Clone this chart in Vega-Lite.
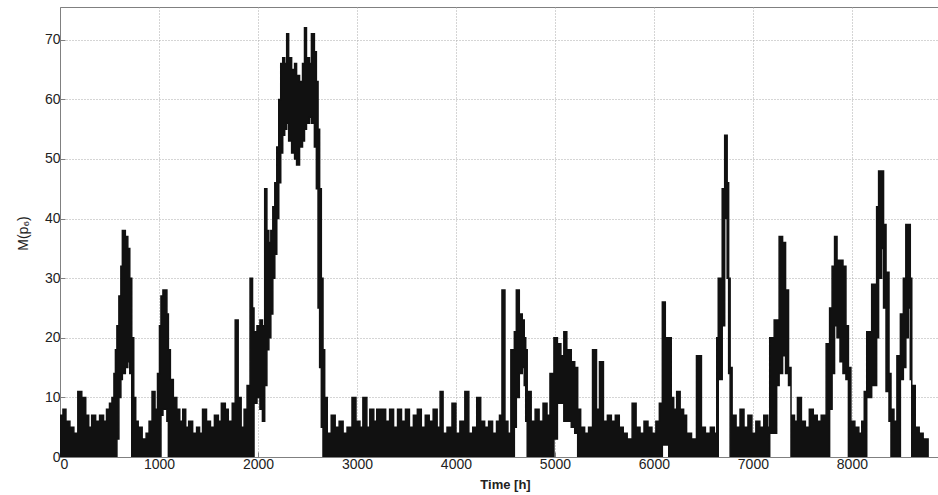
{
  "$schema": "https://vega.github.io/schema/vega-lite/v6.json",
  "width": 878,
  "height": 450,
  "autosize": {"type": "none"},
  "padding": {"left": 60, "top": 7, "right": 0, "bottom": 38},
  "background": "white",
  "config": {
    "font": "Liberation Sans",
    "view": {"stroke": "#808080", "strokeWidth": 1},
    "axis": {
      "labelFont": "Liberation Sans",
      "labelFontSize": 14,
      "labelColor": "#222222",
      "titleFont": "Liberation Sans",
      "titleColor": "#222222",
      "grid": true,
      "gridColor": "#aaaaaa",
      "gridDash": [1, 2],
      "gridWidth": 1,
      "domainColor": "#808080",
      "tickColor": "#808080",
      "tickSize": -5,
      "labelPadding": 5
    }
  },
  "data": {
    "values": [
      {"t":0,"lo":0,"hi":7},{"t":30,"lo":0,"hi":8},{"t":60,"lo":0,"hi":6},{"t":100,"lo":0,"hi":5},
      {"t":140,"lo":0,"hi":4},{"t":180,"lo":0,"hi":11},{"t":220,"lo":0,"hi":10},{"t":260,"lo":0,"hi":7},
      {"t":290,"lo":0,"hi":5},{"t":320,"lo":0,"hi":7},{"t":360,"lo":0,"hi":6},{"t":400,"lo":0,"hi":7},
      {"t":440,"lo":0,"hi":6},{"t":470,"lo":0,"hi":8},{"t":500,"lo":0,"hi":9},{"t":525,"lo":0,"hi":10},
      {"t":545,"lo":0,"hi":14},{"t":560,"lo":0,"hi":18},{"t":575,"lo":3,"hi":22},{"t":595,"lo":10,"hi":27},
      {"t":615,"lo":13,"hi":32},{"t":630,"lo":14,"hi":38},{"t":660,"lo":15,"hi":37},{"t":685,"lo":16,"hi":35},
      {"t":705,"lo":14,"hi":30},{"t":725,"lo":0,"hi":20},{"t":745,"lo":0,"hi":10},{"t":765,"lo":0,"hi":6},
      {"t":790,"lo":0,"hi":5},{"t":830,"lo":0,"hi":3},{"t":870,"lo":0,"hi":4},{"t":900,"lo":0,"hi":6},
      {"t":930,"lo":0,"hi":11},{"t":960,"lo":0,"hi":8},{"t":985,"lo":0,"hi":14},{"t":1005,"lo":0,"hi":22},
      {"t":1020,"lo":7,"hi":27},{"t":1040,"lo":8,"hi":28},{"t":1060,"lo":8,"hi":28},{"t":1080,"lo":6,"hi":24},
      {"t":1095,"lo":0,"hi":18},{"t":1115,"lo":0,"hi":13},{"t":1145,"lo":0,"hi":10},{"t":1180,"lo":0,"hi":8},
      {"t":1210,"lo":0,"hi":6},{"t":1240,"lo":0,"hi":8},{"t":1270,"lo":0,"hi":5},{"t":1300,"lo":0,"hi":6},
      {"t":1340,"lo":0,"hi":4},{"t":1380,"lo":0,"hi":5},{"t":1410,"lo":0,"hi":4},{"t":1440,"lo":0,"hi":8},
      {"t":1480,"lo":0,"hi":6},{"t":1520,"lo":0,"hi":5},{"t":1560,"lo":0,"hi":7},{"t":1600,"lo":0,"hi":6},
      {"t":1630,"lo":0,"hi":9},{"t":1670,"lo":0,"hi":8},{"t":1700,"lo":0,"hi":6},{"t":1740,"lo":0,"hi":9},
      {"t":1770,"lo":0,"hi":23},{"t":1800,"lo":0,"hi":10},{"t":1830,"lo":0,"hi":5},{"t":1860,"lo":0,"hi":8},
      {"t":1890,"lo":0,"hi":12},{"t":1920,"lo":0,"hi":30},{"t":1945,"lo":0,"hi":25},{"t":1960,"lo":9,"hi":21},
      {"t":1990,"lo":10,"hi":22},{"t":2020,"lo":8,"hi":23},{"t":2045,"lo":6,"hi":22},{"t":2068,"lo":12,"hi":45},
      {"t":2090,"lo":18,"hi":38},{"t":2110,"lo":20,"hi":36},{"t":2130,"lo":24,"hi":38},{"t":2150,"lo":30,"hi":42},
      {"t":2170,"lo":34,"hi":46},{"t":2190,"lo":40,"hi":52},{"t":2210,"lo":46,"hi":60},{"t":2230,"lo":51,"hi":66},
      {"t":2250,"lo":54,"hi":67},{"t":2270,"lo":55,"hi":66},{"t":2290,"lo":56,"hi":71},{"t":2310,"lo":53,"hi":67},
      {"t":2340,"lo":51,"hi":65},{"t":2370,"lo":50,"hi":66},{"t":2390,"lo":49,"hi":64},{"t":2420,"lo":52,"hi":63},
      {"t":2450,"lo":53,"hi":66},{"t":2470,"lo":55,"hi":72},{"t":2490,"lo":56,"hi":67},{"t":2520,"lo":57,"hi":66},
      {"t":2540,"lo":56,"hi":71},{"t":2570,"lo":52,"hi":68},{"t":2590,"lo":45,"hi":63},{"t":2607,"lo":25,"hi":55},
      {"t":2623,"lo":15,"hi":45},{"t":2640,"lo":5,"hi":30},{"t":2657,"lo":0,"hi":18},{"t":2674,"lo":0,"hi":10},
      {"t":2700,"lo":0,"hi":4},{"t":2740,"lo":0,"hi":7},{"t":2780,"lo":0,"hi":5},{"t":2820,"lo":0,"hi":6},
      {"t":2860,"lo":0,"hi":4},{"t":2900,"lo":0,"hi":5},{"t":2950,"lo":0,"hi":10},{"t":2990,"lo":0,"hi":6},
      {"t":3030,"lo":0,"hi":5},{"t":3060,"lo":0,"hi":10},{"t":3100,"lo":0,"hi":5},{"t":3130,"lo":0,"hi":8},
      {"t":3170,"lo":0,"hi":6},{"t":3200,"lo":0,"hi":8},{"t":3240,"lo":0,"hi":8},{"t":3290,"lo":0,"hi":6},
      {"t":3330,"lo":0,"hi":8},{"t":3370,"lo":0,"hi":5},{"t":3410,"lo":0,"hi":8},{"t":3450,"lo":0,"hi":6},
      {"t":3490,"lo":0,"hi":8},{"t":3530,"lo":0,"hi":5},{"t":3570,"lo":0,"hi":7},{"t":3610,"lo":0,"hi":8},
      {"t":3650,"lo":0,"hi":5},{"t":3690,"lo":0,"hi":7},{"t":3730,"lo":0,"hi":6},{"t":3770,"lo":0,"hi":8},
      {"t":3810,"lo":0,"hi":5},{"t":3840,"lo":0,"hi":11},{"t":3870,"lo":0,"hi":4},{"t":3910,"lo":0,"hi":5},
      {"t":3960,"lo":0,"hi":9},{"t":4000,"lo":0,"hi":4},{"t":4040,"lo":0,"hi":6},{"t":4090,"lo":0,"hi":11},
      {"t":4130,"lo":0,"hi":4},{"t":4170,"lo":0,"hi":5},{"t":4210,"lo":0,"hi":10},{"t":4250,"lo":0,"hi":6},
      {"t":4290,"lo":0,"hi":5},{"t":4330,"lo":0,"hi":6},{"t":4370,"lo":0,"hi":4},{"t":4410,"lo":0,"hi":6},
      {"t":4440,"lo":0,"hi":7},{"t":4465,"lo":0,"hi":28},{"t":4495,"lo":0,"hi":6},{"t":4525,"lo":0,"hi":4},
      {"t":4555,"lo":0,"hi":18},{"t":4590,"lo":5,"hi":21},{"t":4610,"lo":10,"hi":28},{"t":4640,"lo":14,"hi":24},
      {"t":4670,"lo":15,"hi":23},{"t":4690,"lo":12,"hi":20},{"t":4705,"lo":6,"hi":18},{"t":4720,"lo":0,"hi":11},
      {"t":4760,"lo":0,"hi":6},{"t":4800,"lo":0,"hi":8},{"t":4840,"lo":0,"hi":6},{"t":4880,"lo":0,"hi":9},
      {"t":4920,"lo":0,"hi":7},{"t":4950,"lo":0,"hi":14},{"t":4990,"lo":3,"hi":20},{"t":5025,"lo":9,"hi":19},
      {"t":5060,"lo":9,"hi":17},{"t":5090,"lo":6,"hi":21},{"t":5120,"lo":6,"hi":18},{"t":5165,"lo":5,"hi":16},
      {"t":5200,"lo":4,"hi":15},{"t":5230,"lo":0,"hi":8},{"t":5260,"lo":0,"hi":5},{"t":5300,"lo":0,"hi":4},
      {"t":5340,"lo":0,"hi":5},{"t":5380,"lo":0,"hi":18},{"t":5420,"lo":0,"hi":8},{"t":5450,"lo":0,"hi":16},
      {"t":5490,"lo":0,"hi":6},{"t":5530,"lo":0,"hi":7},{"t":5570,"lo":0,"hi":6},{"t":5610,"lo":0,"hi":7},
      {"t":5650,"lo":0,"hi":5},{"t":5690,"lo":0,"hi":4},{"t":5730,"lo":0,"hi":3},{"t":5780,"lo":0,"hi":9},
      {"t":5820,"lo":0,"hi":5},{"t":5860,"lo":0,"hi":4},{"t":5900,"lo":0,"hi":6},{"t":5940,"lo":0,"hi":5},
      {"t":5980,"lo":0,"hi":4},{"t":6020,"lo":0,"hi":6},{"t":6055,"lo":0,"hi":9},{"t":6085,"lo":2,"hi":26},
      {"t":6115,"lo":2,"hi":20},{"t":6150,"lo":0,"hi":20},{"t":6175,"lo":0,"hi":10},{"t":6200,"lo":0,"hi":8},
      {"t":6230,"lo":0,"hi":11},{"t":6265,"lo":0,"hi":8},{"t":6300,"lo":0,"hi":7},{"t":6330,"lo":0,"hi":4},
      {"t":6380,"lo":0,"hi":3},{"t":6430,"lo":0,"hi":17},{"t":6480,"lo":0,"hi":5},{"t":6520,"lo":0,"hi":4},
      {"t":6570,"lo":0,"hi":5},{"t":6610,"lo":0,"hi":4},{"t":6635,"lo":0,"hi":20},{"t":6650,"lo":13,"hi":30},
      {"t":6690,"lo":22,"hi":45},{"t":6715,"lo":40,"hi":54},{"t":6740,"lo":30,"hi":46},{"t":6755,"lo":14,"hi":30},
      {"t":6770,"lo":0,"hi":15},{"t":6790,"lo":0,"hi":7},{"t":6830,"lo":0,"hi":5},{"t":6870,"lo":0,"hi":8},
      {"t":6910,"lo":0,"hi":5},{"t":6950,"lo":0,"hi":7},{"t":6990,"lo":0,"hi":4},{"t":7030,"lo":0,"hi":6},
      {"t":7070,"lo":0,"hi":5},{"t":7110,"lo":0,"hi":7},{"t":7150,"lo":0,"hi":5},{"t":7170,"lo":4,"hi":20},
      {"t":7215,"lo":4,"hi":23},{"t":7240,"lo":12,"hi":23},{"t":7265,"lo":14,"hi":37},{"t":7300,"lo":17,"hi":36},
      {"t":7330,"lo":14,"hi":28},{"t":7360,"lo":12,"hi":15},{"t":7385,"lo":0,"hi":7},{"t":7420,"lo":0,"hi":6},
      {"t":7450,"lo":0,"hi":10},{"t":7490,"lo":0,"hi":6},{"t":7530,"lo":0,"hi":5},{"t":7570,"lo":0,"hi":8},
      {"t":7610,"lo":0,"hi":7},{"t":7650,"lo":0,"hi":6},{"t":7690,"lo":0,"hi":7},{"t":7740,"lo":0,"hi":19},
      {"t":7775,"lo":8,"hi":25},{"t":7800,"lo":14,"hi":32},{"t":7825,"lo":22,"hi":37},{"t":7850,"lo":20,"hi":33},
      {"t":7880,"lo":16,"hi":33},{"t":7910,"lo":14,"hi":32},{"t":7940,"lo":13,"hi":22},{"t":7965,"lo":0,"hi":15},
      {"t":7990,"lo":0,"hi":6},{"t":8030,"lo":0,"hi":5},{"t":8070,"lo":0,"hi":4},{"t":8100,"lo":0,"hi":6},
      {"t":8125,"lo":0,"hi":11},{"t":8150,"lo":10,"hi":21},{"t":8200,"lo":12,"hi":29},{"t":8250,"lo":20,"hi":42},
      {"t":8270,"lo":30,"hi":48},{"t":8300,"lo":35,"hi":48},{"t":8320,"lo":25,"hi":39},{"t":8345,"lo":11,"hi":31},
      {"t":8375,"lo":6,"hi":14},{"t":8395,"lo":0,"hi":8},{"t":8425,"lo":0,"hi":6},{"t":8455,"lo":0,"hi":17},
      {"t":8490,"lo":13,"hi":24},{"t":8520,"lo":15,"hi":30},{"t":8545,"lo":20,"hi":39},{"t":8570,"lo":25,"hi":39},
      {"t":8590,"lo":13,"hi":30},{"t":8605,"lo":0,"hi":12},{"t":8640,"lo":0,"hi":5},{"t":8680,"lo":0,"hi":4},
      {"t":8720,"lo":0,"hi":3},{"t":8770,"lo":0,"hi":3}
    ]
  },
  "mark": {
    "type": "area",
    "interpolate": "step-after",
    "fill": "#111111",
    "stroke": "#111111",
    "strokeWidth": 1.5,
    "clip": true
  },
  "encoding": {
    "x": {
      "field": "t",
      "type": "quantitative",
      "scale": {"domain": [0, 8870], "nice": false, "zero": false},
      "axis": {
        "values": [0, 1000, 2000, 3000, 4000, 5000, 6000, 7000, 8000],
        "format": "d",
        "title": "Time [h]",
        "titleFontSize": 13,
        "titleFontWeight": "bold",
        "titleX": 445,
        "titleY": 31,
        "titleAlign": "center",
        "titleBaseline": "alphabetic"
      }
    },
    "y": {
      "field": "hi",
      "type": "quantitative",
      "scale": {"domain": [0, 75.5], "nice": false},
      "axis": {
        "values": [0, 10, 20, 30, 40, 50, 60, 70],
        "title": "M(p₆)",
        "titleFontSize": 14,
        "titleFontWeight": "normal",
        "titleAngle": 270,
        "titleX": -33,
        "titleY": 226,
        "titleAlign": "center",
        "titleBaseline": "alphabetic"
      }
    },
    "y2": {"field": "lo"}
  }
}
